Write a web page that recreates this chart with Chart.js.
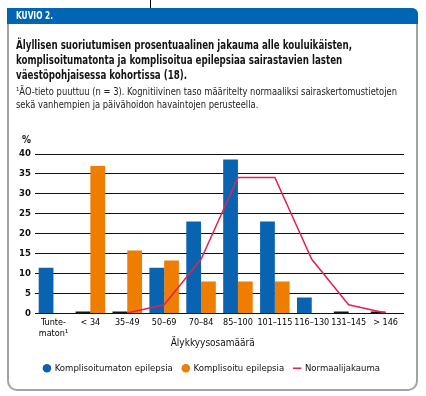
<!DOCTYPE html>
<html>
<head>
<meta charset="utf-8">
<script src="https://cdn.jsdelivr.net/npm/chart.js@4.4.1/dist/chart.umd.min.js"></script>
<style>
  html, body { margin: 0; padding: 0; background: #fff; }
  body { width: 426px; height: 396px; position: relative; overflow: hidden;
         font-family: "DejaVu Sans Condensed", "Liberation Sans Narrow", "Roboto", sans-serif; color: #1a1a1a; }
  #stray { position: absolute; left: 150px; top: 0; width: 1px; height: 8px; background: #000; }
  #frame { position: absolute; left: 7px; top: 8px; width: 411px; height: 383px; box-sizing: border-box;
           border: 2px solid #a3a3a3; border-top: none; border-radius: 0 6px 10px 10px; }
  #header { position: absolute; left: 7px; top: 8px; width: 411px; height: 16px; background: #0066b3;
            border-radius: 0 6px 0 0; z-index: 3; }
  .fit { position: absolute; white-space: nowrap; transform-origin: 0 0; z-index: 3; }
  #htext { left: 16px; top: 8px; color: #fff; font-weight: bold; font-size: 11px; line-height: 16px; }
  #title { left: 16px; top: 37px; font-weight: bold; font-size: 13px; line-height: 15px; color: #151515; }
  #note { left: 16px; top: 85px; font-size: 10.5px; line-height: 13px; color: #222; }
  #pct { position: absolute; left: 22px; top: 134px; font-weight: bold; font-size: 10px; z-index: 3; }
  #c { position: absolute; left: 0; top: 0; z-index: 2; }
</style>
</head>
<body>
<div id="stray"></div>
<div id="frame"></div>
<div id="header"></div>
<div id="htext" class="fit" data-w="37">KUVIO 2.</div>
<div id="title" class="fit" data-w="336">Älyllisen suoriutumisen prosentuaalinen jakauma alle kouluikäisten,<br>komplisoitumatonta ja komplisoitua epilepsiaa sairastavien lasten<br>väestöpohjaisessa kohortissa (18).</div>
<div id="note" class="fit" data-w="381">¹ÄO-tieto puuttuu (n = 3). Kognitiivinen taso määritelty normaaliksi sairaskertomustietojen<br>sekä vanhempien ja päivähoidon havaintojen perusteella.</div>
<div id="pct">%</div>
<canvas id="c" width="426" height="396"></canvas>
<script>
const categories = [["Tunte-", "maton¹"], "< 34", "35–49", "50–69", "70–84", "85–100", "101–115", "116–130", "131–145", "> 146"];
const uncomplicated = [11.5, 0, 0, 11.5, 23.1, 38.6, 23.1, 4.0, 0, 0];
const complicated = [0, 37.0, 15.8, 13.3, 8.0, 8.0, 8.0, 0, 0, 0];
const normalDist = [null, null, 0.1, 2.2, 13.6, 34.1, 34.1, 13.6, 2.2, 0.1];
const yTicks = [0, 5, 10, 15, 20, 25, 30, 35, 40];
const seriesNames = ["Komplisoitumaton epilepsia", "Komplisoitu epilepsia", "Normaalijakauma"];
const xTitle = "Älykkyysosamäärä";

// condense HTML text blocks horizontally to the reference widths
document.querySelectorAll('.fit').forEach(el => {
  const w = el.getBoundingClientRect().width;
  el.style.transform = 'scaleX(' + (parseFloat(el.dataset.w) / w) + ')';
});

const FONT = '"DejaVu Sans Condensed", "Liberation Sans Narrow", "Roboto", sans-serif';
const BLUE = '#0a63b0', ORANGE = '#ef7d00', RED = '#e2234f';

const condense = {
  id: 'condense',
  beforeInit: chart => { chart.ctx.letterSpacing = '-0.3px'; }
};

new Chart(document.getElementById('c'), {
  type: 'bar',
  plugins: [condense],
  data: {
    labels: categories,
    datasets: [
      { label: seriesNames[0], data: uncomplicated, order: 1,
        backgroundColor: ctx => (ctx.raw === 0 ? '#1a1a1a' : BLUE), minBarLength: 2,
        barPercentage: 1, categoryPercentage: 0.8 },
      { label: seriesNames[1], data: complicated, order: 1,
        backgroundColor: ORANGE, barPercentage: 1, categoryPercentage: 0.8 },
      { type: 'line', label: seriesNames[2], data: normalDist, order: 0,
        borderColor: RED, backgroundColor: RED, borderWidth: 1.5, pointRadius: 0,
        pointStyle: 'line', tension: 0, fill: false }
    ]
  },
  options: {
    responsive: false, animation: false, devicePixelRatio: 1,
    layout: { padding: { left: 10, right: 12, top: 154, bottom: 13 } },
    plugins: {
      tooltip: { enabled: false },
      title: { display: false },
      legend: {
        position: 'bottom',
        labels: {
          usePointStyle: true, boxHeight: 6, boxWidth: 6, padding: 10, color: '#111',
          font: { family: FONT, size: 9.5 },
          sort: (a, b) => a.datasetIndex - b.datasetIndex,
          generateLabels: chart => Chart.defaults.plugins.legend.labels.generateLabels(chart).map(l => {
            if (l.datasetIndex === 0) { l.fillStyle = BLUE; l.strokeStyle = BLUE; l.pointStyle = 'circle'; }
            if (l.datasetIndex === 1) { l.pointStyle = 'circle'; }
            if (l.datasetIndex === 2) { l.lineWidth = 1.5; l.strokeStyle = RED; }
            return l;
          })
        }
      }
    },
    scales: {
      x: {
        grid: { display: false, drawTicks: false, tickLength: 0 }, border: { display: false },
        ticks: { color: '#000', font: { family: FONT, size: 9, lineHeight: 1.2 }, padding: 4, maxRotation: 0, autoSkip: false },
        title: { display: true, text: xTitle + '\u2002\u2002\u2002', color: '#111', font: { family: FONT, size: 10 }, padding: { top: 0, bottom: 4 } },
        afterFit: s => { s.height = 40; }
      },
      y: {
        min: 0, max: 40,
        afterBuildTicks: s => { s.ticks = yTicks.map(v => ({ value: v })); },
        grid: { color: '#111', lineWidth: 1, drawTicks: false },
        border: { display: false },
        ticks: { color: '#111', font: { family: FONT, size: 9.5, weight: 'bold' }, padding: 4 },
        afterFit: s => { s.width = 25; }
      },
      y2: {
        position: 'right', display: true, grid: { display: false }, border: { display: false },
        ticks: { display: false }, afterFit: s => { s.width = 10; }
      }
    }
  }
});
</script>
</body>
</html>
